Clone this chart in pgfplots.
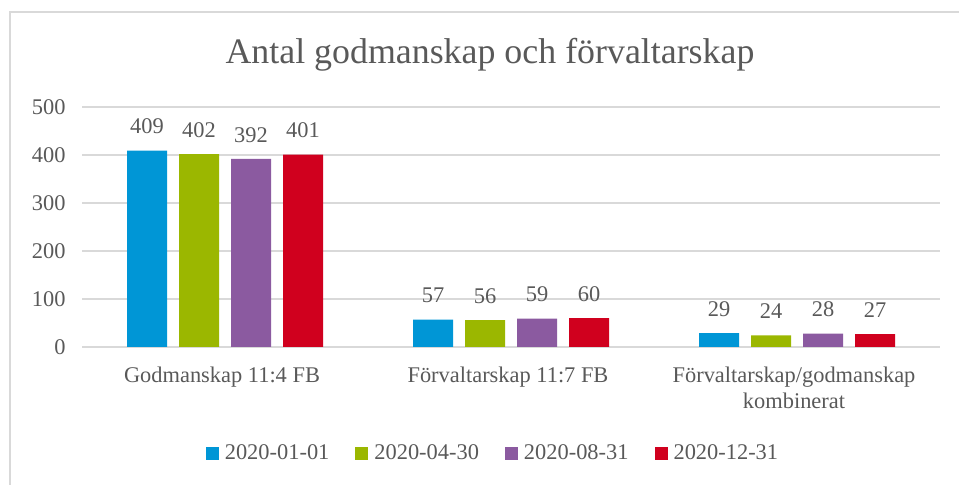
\documentclass[border=0pt]{standalone}
\usepackage{pgfplots}
\pgfplotsset{compat=1.18}
\usepackage{fontspec}
\setmainfont{Liberation Serif}
\definecolor{c1}{RGB}{0,150,214}
\definecolor{c2}{RGB}{155,183,0}
\definecolor{c3}{RGB}{139,90,160}
\definecolor{c4}{RGB}{208,0,30}
\definecolor{gridgray}{RGB}{217,217,217}
\definecolor{textgray}{RGB}{89,89,89}
\begin{document}
\begin{tikzpicture}[x=1bp,y=1bp]
\useasboundingbox (0,0) rectangle (959,485);
\draw[gridgray, line width=1.2bp] (10,0) -- (10,473) -- (959,473);
\node[anchor=base, text=textgray, font=\fontsize{36}{40}\selectfont] at (490,421) {Antal godmanskap och förvaltarskap};
\begin{axis}[
  at={(82bp,138bp)}, anchor=south west, scale only axis,
  width=858bp, height=240bp,
  xmin=-0.5, xmax=2.5, ymin=0, ymax=500,
  ytick={0,100,...,500}, xtick={0,1,2},
  xticklabels={Godmanskap 11:4 FB, Förvaltarskap 11:7 FB, {Förvaltarskap/godmanskap\\kombinerat}},
  xticklabel style={align=center, yshift=-16bp, xshift=-3bp},
  yticklabel style={xshift=-13bp},
  /pgf/number format/assume math mode=true,
  tick label style={font=\fontsize{22.5}{26.5}\selectfont, text=textgray},
  ybar=12bp, bar width=40bp,
  axis line style={draw=none}, major tick length=0pt,
  ymajorgrids, grid style={color=gridgray, line width=1.2bp},
  clip=false,
  nodes near coords,
  every node near coord/.append style={font=\fontsize{22.5}{26}\selectfont, text=textgray, yshift=13bp},
  legend columns=4,
  legend style={at={(0.479,-0.442)}, anchor=center, draw=none, font=\fontsize{22.5}{26}\selectfont, text=textgray,
    /tikz/every odd column/.append style={column sep=4bp},
    /tikz/every even column/.append style={column sep=24bp}},
  legend image code/.code={\fill[#1,draw=none] (0bp,-6.5bp) rectangle (13bp,6.5bp);},
]
\addplot[fill=c1, draw=none] coordinates {(0,409) (1,57) (2,29)};
\addplot[fill=c2, draw=none] coordinates {(0,402) (1,56) (2,24)};
\addplot[fill=c3, draw=none] coordinates {(0,392) (1,59) (2,28)};
\addplot[fill=c4, draw=none] coordinates {(0,401) (1,60) (2,27)};
\legend{2020-01-01, 2020-04-30, 2020-08-31, 2020-12-31}
\end{axis}
\end{tikzpicture}
\end{document}
